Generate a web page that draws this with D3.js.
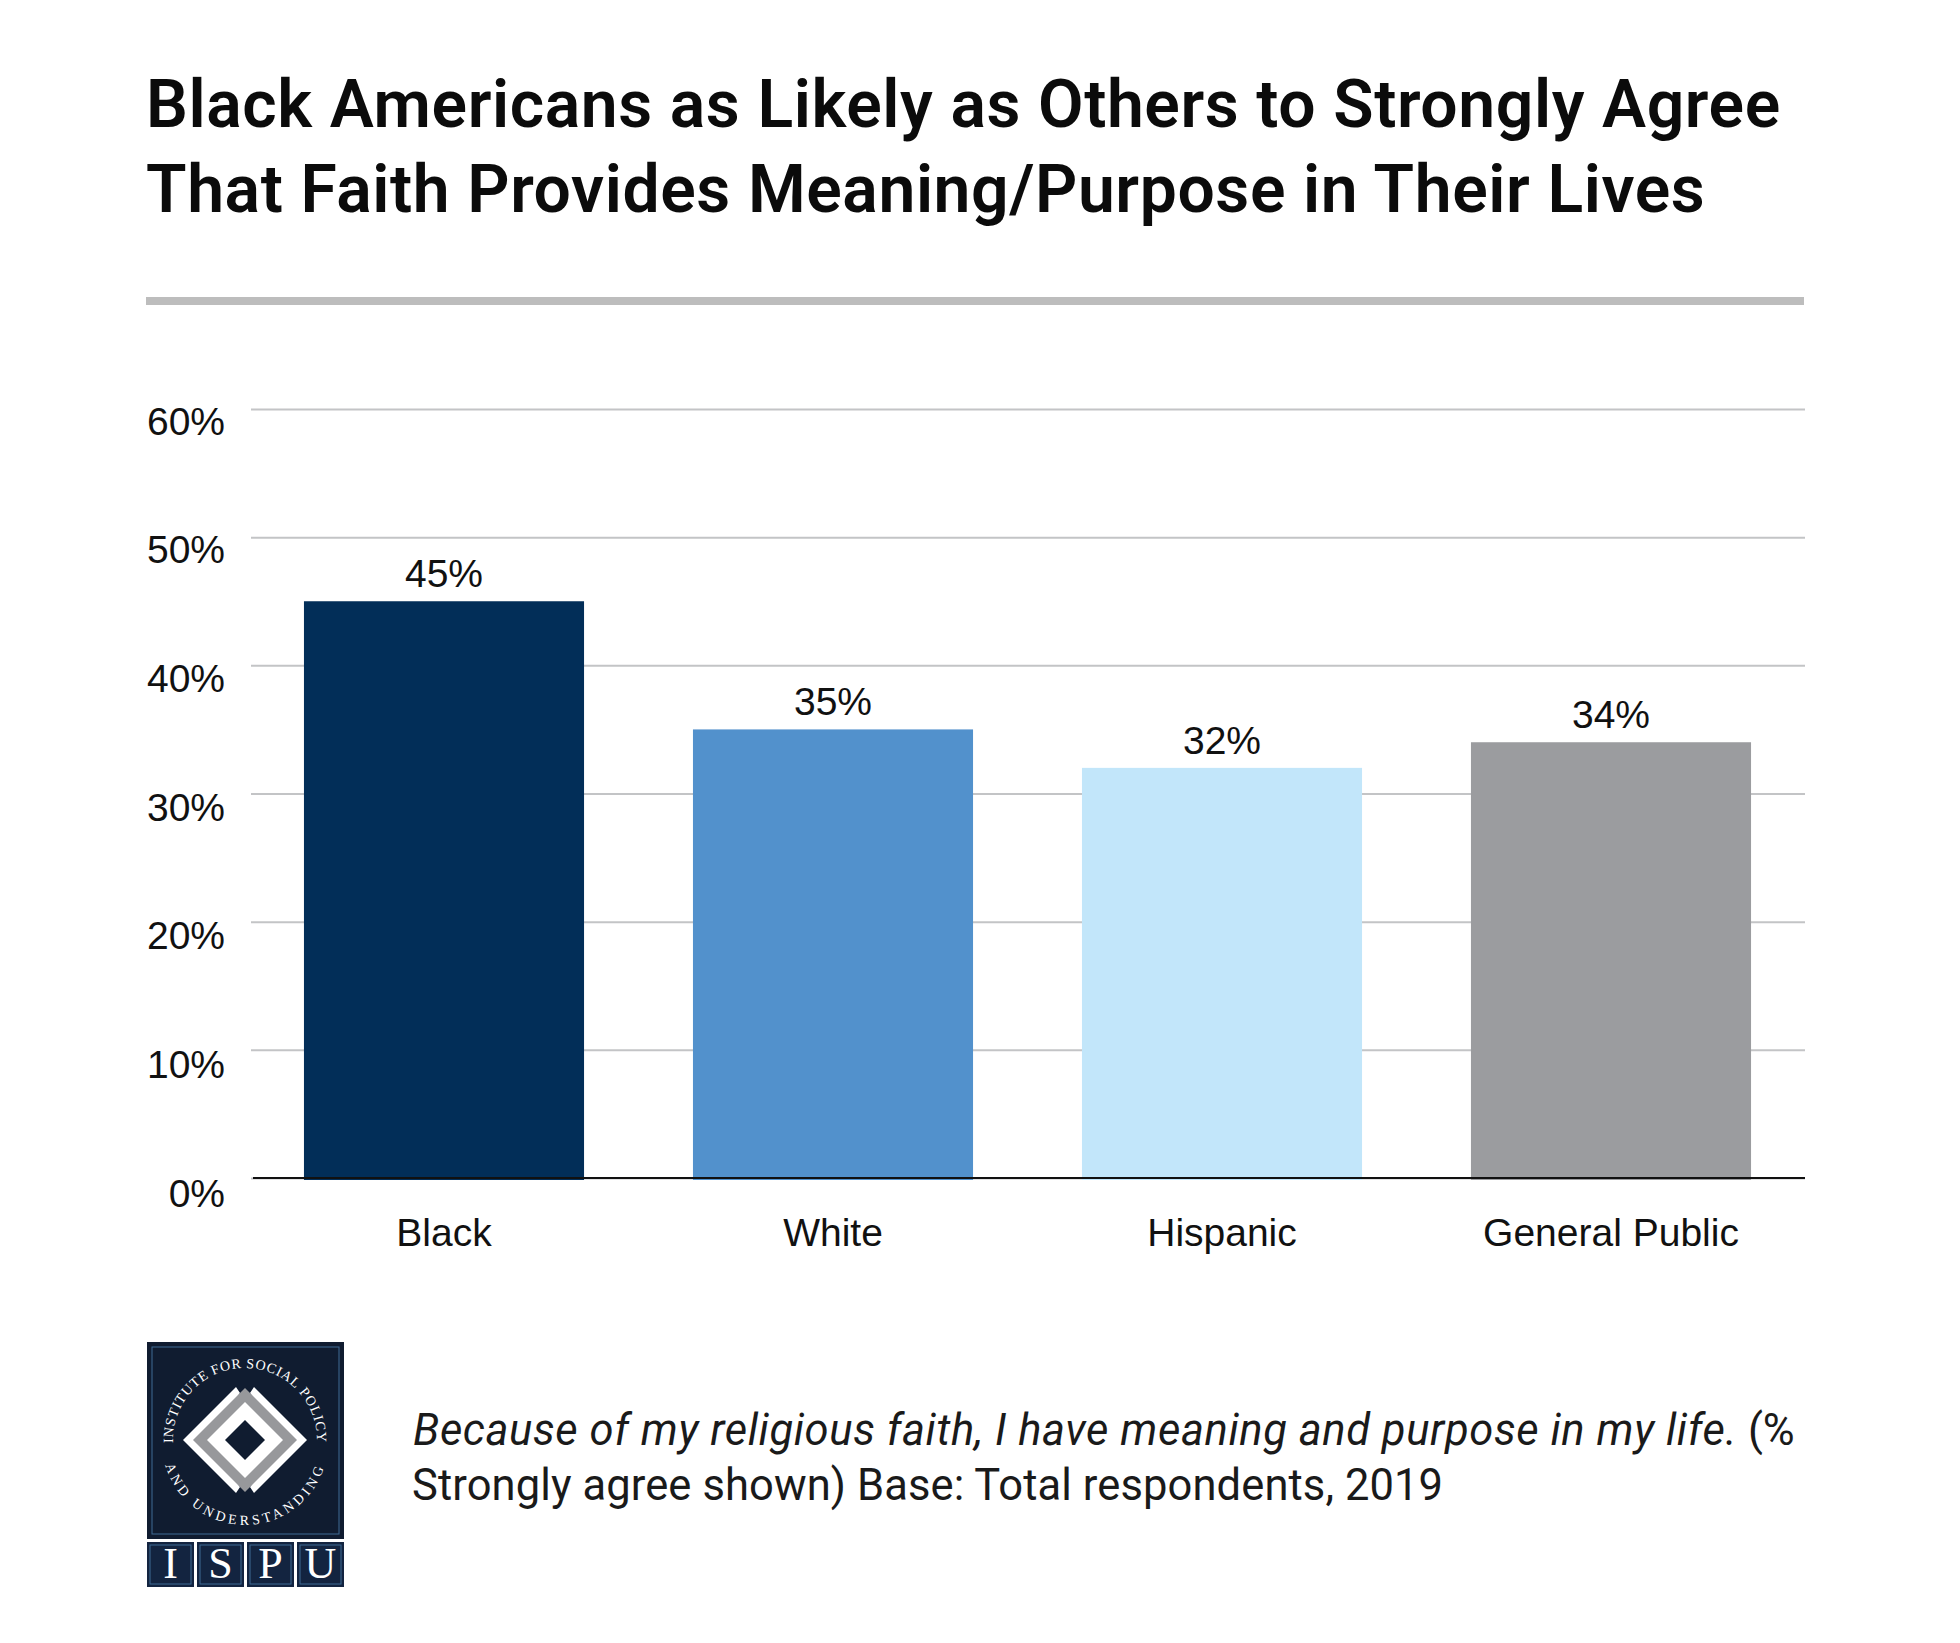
<!DOCTYPE html>
<html lang="en">
<head>
<meta charset="UTF-8">
<title>Black Americans as Likely as Others</title>
<script src="https://d3js.org/d3.v7.min.js"></script>
<style>
    html, body { margin: 0; padding: 0; background: #fff; }
    svg { display: block; }
    text { font-family: "Liberation Sans", Arial, sans-serif; fill: #111; }
    .title { font-family: Roboto, sans-serif; font-weight: 600; font-size: 66px; letter-spacing: 0.6px; fill: #0b0b0b; }
    .note { font-family: Roboto, sans-serif; font-size: 43.5px; fill: #1a1a1a; }
    .seal { font-family: "Liberation Serif", serif; fill: #fff; }
</style>
</head>
<body>
<svg width="1960" height="1643"></svg>
<script>
const titleLines = ["Black Americans as Likely as Others to Strongly Agree",
                    "That Faith Provides Meaning/Purpose in Their Lives"];
const groups = ["Black", "White", "Hispanic", "General Public"];
const values = [45, 35, 32, 34];
const barColors = ["#022e58", "#5291cc", "#c2e6fa", "#9b9c9f"];
const yTicks = [0, 10, 20, 30, 40, 50, 60];
const noteItalic = "Because of my religious faith, I have meaning and purpose in my life.";
const noteRest = " (%";
const noteLine2 = "Strongly agree shown) Base: Total respondents, 2019";
const sealTop = "INSTITUTE FOR SOCIAL POLICY";
const sealBottom = "AND UNDERSTANDING";
const logoLetters = ["I", "S", "P", "U"];

const svg = d3.select("svg");

// scales
const x = d3.scaleBand().domain(groups).range([249.5, 1805.5]).paddingInner(0.28).paddingOuter(0.14);
const y = d3.scaleLinear().domain([0, 60]).range([1178, 409]);

// title and rule
svg.selectAll(".title").data(titleLines).enter().append("text")
    .attr("class", "title")
    .attr("x", 146)
    .attr("y", (d, i) => 127 + i * 85)
    .text(d => d);

svg.append("rect").attr("x", 146).attr("y", 297).attr("width", 1658).attr("height", 8).attr("fill", "#bdbdbd");

// y axis with gridlines
const yAxis = svg.append("g")
    .attr("transform", "translate(251,0)")
    .call(d3.axisLeft(y).tickValues(yTicks).tickFormat(d => d + "%").tickSize(-1554).tickPadding(26));
yAxis.select(".domain").remove();
yAxis.selectAll("line").attr("stroke", "#c3c4c6").attr("stroke-width", 2);
yAxis.selectAll("text").attr("font-size", 39).attr("dy", d => 28 - d * 0.05).attr("fill", "#111");

// bars
svg.selectAll(".bar").data(values).enter().append("rect")
    .attr("class", "bar")
    .attr("x", (d, i) => x(groups[i]))
    .attr("y", d => y(d))
    .attr("width", x.bandwidth())
    .attr("height", d => y(0) - y(d) + 2)
    .attr("fill", (d, i) => barColors[i]);

// baseline
svg.append("line").attr("x1", 253).attr("x2", 1805).attr("y1", y(0)).attr("y2", y(0))
    .attr("stroke", "#111").attr("stroke-width", 2);

// bar labels
svg.selectAll(".val").data(values).enter().append("text")
    .attr("class", "val")
    .attr("x", (d, i) => x(groups[i]) + x.bandwidth() / 2)
    .attr("y", d => y(d) - 14)
    .attr("text-anchor", "middle")
    .attr("font-size", 39)
    .text(d => d + "%");

// x axis labels
const xAxis = svg.append("g")
    .attr("transform", "translate(0,1178)")
    .call(d3.axisBottom(x).tickSize(0).tickPadding(0));
xAxis.select(".domain").remove();
xAxis.selectAll("text").attr("font-size", 39).attr("dy", 0).attr("y", 68).attr("fill", "#111");

// note
const note = svg.append("text").attr("class", "note").attr("x", 413).attr("y", 1445);
note.append("tspan").attr("font-style", "italic").attr("letter-spacing", 0.6).text(noteItalic);
note.append("tspan").text(noteRest);
svg.append("text").attr("class", "note").attr("x", 412).attr("y", 1500).attr("letter-spacing", 0.1).text(noteLine2);

// logo
const logo = svg.append("g").attr("transform", "translate(147,1342)");
const navy = "#101c30", tileNavy = "#132440", edge = "#3f6a94";
logo.append("rect").attr("width", 197).attr("height", 197).attr("fill", navy);
logo.append("rect").attr("x", 5).attr("y", 5).attr("width", 187).attr("height", 187).attr("fill", "none").attr("stroke", edge).attr("stroke-width", 1);

const cx = 98, cy = 98;
const diamond = r => `M${cx},${cy - r}L${cx + r},${cy}L${cx},${cy + r}L${cx - r},${cy}Z`;
// white chevrons either side of the grey ring
[-1, 1].forEach(s => {
    logo.append("path").attr("fill", "#fff")
        .attr("d", `M${cx + s * 62},${cy}L${cx + s * 9},${cy - 53}L${cx + s * 5},${cy - 47}L${cx + s * 40},${cy}L${cx + s * 5},${cy + 47}L${cx + s * 9},${cy + 53}Z`);
});
logo.append("path").attr("d", diamond(52)).attr("fill", "#97989b");
logo.append("path").attr("d", diamond(38)).attr("fill", "#fff");
logo.append("path").attr("d", diamond(20)).attr("fill", navy);

const defs = svg.append("defs");
defs.append("path").attr("id", "sealTop").attr("d", `M${cx - 71},${cy + 12}A72,72 0 1 1 ${cx + 71},${cy + 12}`);
defs.append("path").attr("id", "sealBottom").attr("d", `M${cx - 81},${cy + 20}A83,83 0 0 0 ${cx + 81},${cy + 20}`);

// seal text round the diamond
function sealText(id, words, spacing) {
    logo.append("text").attr("class", "seal").attr("font-size", 14).attr("letter-spacing", spacing)
        .append("textPath").attr("href", "#" + id).attr("startOffset", "50%").attr("text-anchor", "middle")
        .text(words);
}
sealText("sealTop", sealTop, 0.8);
sealText("sealBottom", sealBottom, 3.6);

const tile = d3.scaleBand().domain(logoLetters).range([0, 197]).paddingInner(0.06);
const tiles = logo.selectAll(".tile").data(logoLetters).enter().append("g")
    .attr("transform", d => `translate(${tile(d)},200)`);
tiles.append("rect").attr("width", tile.bandwidth()).attr("height", 45).attr("fill", tileNavy);
tiles.append("rect").attr("x", 3).attr("y", 3).attr("width", tile.bandwidth() - 6).attr("height", 39)
    .attr("fill", "none").attr("stroke", edge).attr("stroke-width", 1);
tiles.append("text").attr("class", "seal").attr("x", tile.bandwidth() / 2).attr("y", 36)
    .attr("text-anchor", "middle").attr("font-size", 44).text(d => d);
</script>
</body>
</html>
